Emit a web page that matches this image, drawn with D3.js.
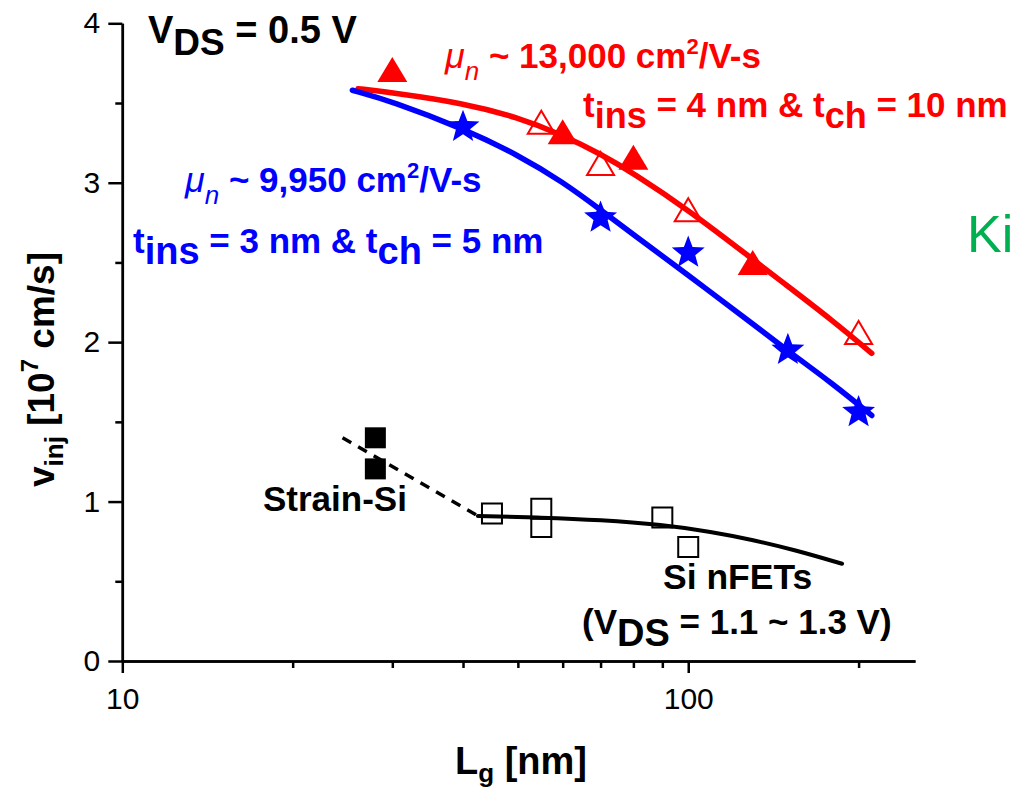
<!DOCTYPE html>
<html><head><meta charset="utf-8">
<script src="https://cdn.jsdelivr.net/npm/d3@7"></script>
<style>
body{margin:0;background:#fff}
svg{display:block}
text{font-family:"Liberation Sans",Arial,Helvetica,sans-serif}
</style>
</head><body>
<svg id="chart" width="1012" height="789"></svg>
<script>
// ---------- data ----------
const xMajorTicks = [10, 100];
const xMinorTicks = [20, 30, 40, 50, 60, 70, 80, 90, 200];
const yMajorTicks = [0, 1, 2, 3, 4];
const yMinorTicks = [0.5, 1.5, 2.5, 3.5];

// red: mu ~ 13,000, tins = 4 nm & tch = 10 nm
const redFilledL = [30, 60, 80, 130];
const redFilledV = [3.71, 3.32, 3.16, 2.50];
const redOpenL = [55, 70, 100, 200];
const redOpenV = [3.38, 3.12, 2.83, 2.06];
const redFitL = [26.1, 30, 40, 50, 60, 70, 80, 100, 130, 150, 180, 211];
const redFitV = [3.59, 3.565, 3.50, 3.41, 3.30, 3.18, 3.06, 2.83, 2.52, 2.35, 2.135, 1.93];

// blue: mu ~ 9,950, tins = 3 nm & tch = 5 nm
const blueStarL = [40, 70, 100, 150, 200];
const blueStarV = [3.35, 2.78, 2.56, 1.95, 1.56];
const blueFitL = [25.5, 30, 40, 50, 60, 70, 80, 100, 130, 150, 180, 211];
const blueFitV = [3.58, 3.51, 3.34, 3.175, 3.005, 2.83, 2.675, 2.42, 2.115, 1.945, 1.74, 1.54];

// Si nFETs
const strainL = [28, 28];
const strainV = [1.40, 1.205];
const siL = [45, 55, 55, 90, 100];
const siV = [0.925, 0.955, 0.84, 0.90, 0.715];
const siDashL = [24.5, 42.5];
const siDashV = [1.40, 0.91];
const siFitL = [42.5, 55, 70, 90, 110, 130, 155, 187];
const siFitV = [0.91, 0.90, 0.885, 0.855, 0.81, 0.76, 0.695, 0.61];

const RED = "#ff0000", BLUE = "#0000ff", GREEN = "#00b050";

// ---------- scales ----------
const svg = d3.select("#chart");
svg.append("rect").attr("width", 1012).attr("height", 789).attr("fill", "#fff");

const x = d3.scaleLog().domain([10, 251.6]).range([122.3, 915]);
const y = d3.scaleLinear().domain([0, 4]).range([661, 23.3]);

// ---------- axes ----------
const axisW = 2.5;
function styleAxis(g) {
  g.select(".domain").attr("stroke", "#000").attr("stroke-width", axisW);
  g.selectAll(".tick line").attr("stroke", "#000").attr("stroke-width", axisW);
  g.selectAll(".tick text").attr("fill", "#000").attr("font-size", 30)
    .attr("font-family", '"Liberation Sans",Arial,sans-serif');
}
svg.append("g").attr("transform", `translate(0,${y(0)})`)
  .call(d3.axisBottom(x).tickValues(xMinorTicks).tickSize(7).tickSizeOuter(0).tickFormat(""))
  .call(styleAxis);
svg.append("g").attr("transform", `translate(0,${y(0)})`)
  .call(d3.axisBottom(x).tickValues(xMajorTicks).tickSize(12).tickPadding(15).tickSizeOuter(0).tickFormat(d3.format("d")))
  .call(styleAxis);
svg.append("g").attr("transform", `translate(${x(10)},0)`)
  .call(d3.axisLeft(y).tickValues(yMinorTicks).tickSize(7).tickSizeOuter(0).tickFormat(""))
  .call(styleAxis);
svg.append("g").attr("transform", `translate(${x(10)},0)`)
  .call(d3.axisLeft(y).tickValues(yMajorTicks).tickSize(14).tickPadding(8).tickSizeOuter(0).tickFormat(d3.format("d")))
  .call(styleAxis);

// ---------- rich text helper ----------
function rich(parent, px, py, parts, opts = {}) {
  const t = parent.append("text").attr("x", px).attr("y", py)
    .attr("fill", opts.fill || "#000")
    .attr("font-weight", opts.weight || "bold")
    .attr("font-size", opts.size || 35);
  if (opts.transform) t.attr("transform", opts.transform);
  let cur = 0;
  parts.forEach(p => {
    const s = t.append("tspan").text(p.t);
    const shift = p.shift || 0;
    s.attr("dy", shift - cur);
    cur = shift;
    if (p.size) s.attr("font-size", p.size);
    if (p.style) s.attr("font-style", p.style);
    if (p.weight) s.attr("font-weight", p.weight);
  });
  return t;
}

// ---------- lines ----------
const line = d3.line().x(d => x(d[0])).y(d => y(d[1])).curve(d3.curveBasis);
const zip = (a, b) => a.map((v, i) => [v, b[i]]);

svg.append("path").datum(zip(siDashL, siDashV)).attr("d", line)
  .attr("fill", "none").attr("stroke", "#000").attr("stroke-width", 3.5)
  .attr("stroke-dasharray", "10,8");
svg.append("path").datum(zip(siFitL, siFitV)).attr("d", line)
  .attr("fill", "none").attr("stroke", "#000").attr("stroke-width", 4).attr("stroke-linecap", "round");

// ---------- markers ----------
const triPath = (w, h) => `M0,${-h/2}L${w/2},${h/2}L${-w/2},${h/2}Z`;
function starPath(R, r) {
  let p = "";
  for (let i = 0; i < 10; i++) {
    const rad = i % 2 === 0 ? R : r;
    const a = -Math.PI / 2 + i * Math.PI / 5;
    p += (i ? "L" : "M") + (rad * Math.cos(a)).toFixed(2) + "," + (rad * Math.sin(a)).toFixed(2);
  }
  return p + "Z";
}
const sqPath = s => `M${-s/2},${-s/2}h${s}v${s}h${-s}Z`;

svg.append("g").selectAll("path").data(zip(strainL, strainV)).join("path")
  .attr("d", sqPath(21)).attr("transform", d => `translate(${x(d[0])},${y(d[1])})`)
  .attr("fill", "#000");
svg.append("g").selectAll("path").data(zip(siL, siV)).join("path")
  .attr("d", sqPath(20)).attr("transform", d => `translate(${x(d[0])},${y(d[1])})`)
  .attr("fill", "none").attr("stroke", "#000").attr("stroke-width", 2);

svg.append("path").datum(zip(redFitL, redFitV)).attr("d", line)
  .attr("fill", "none").attr("stroke", RED).attr("stroke-width", 5.5).attr("stroke-linecap", "round");
svg.append("path").datum(zip(blueFitL, blueFitV)).attr("d", line)
  .attr("fill", "none").attr("stroke", BLUE).attr("stroke-width", 5.5).attr("stroke-linecap", "round");

svg.append("g").selectAll("path").data(zip(redOpenL, redOpenV)).join("path")
  .attr("d", triPath(27, 23)).attr("transform", d => `translate(${x(d[0])},${y(d[1])})`)
  .attr("fill", "none").attr("stroke", RED).attr("stroke-width", 2);
svg.append("g").selectAll("path").data(zip(redFilledL, redFilledV)).join("path")
  .attr("d", triPath(30, 25)).attr("transform", d => `translate(${x(d[0])},${y(d[1])})`)
  .attr("fill", RED);
svg.append("g").selectAll("path").data(zip(blueStarL, blueStarV)).join("path")
  .attr("d", starPath(17.3, 7.4)).attr("transform", d => `translate(${x(d[0])},${y(d[1])})`)
  .attr("fill", BLUE);

// ---------- annotations ----------
rich(svg, 148, 43, [
  {t: "V", size: 38}, {t: "DS", size: 37, shift: 12}, {t: " = 0.5 V", size: 38}
]);

rich(svg, 445, 68, [
  {t: "μ", style: "italic", weight: "normal", size: 36},
  {t: "n", style: "italic", weight: "normal", size: 26, shift: 12},
  {t: " ~ 13,000 cm"},
  {t: "2", size: 22, shift: -14},
  {t: "/V-s"}
], {fill: RED});
rich(svg, 583, 117, [
  {t: "t"}, {t: "ins", size: 36, shift: 11}, {t: " = 4 nm & t"}, {t: "ch", size: 36, shift: 11}, {t: " = 10 nm"}
], {fill: RED});

rich(svg, 185, 192, [
  {t: "μ", style: "italic", weight: "normal", size: 36},
  {t: "n", style: "italic", weight: "normal", size: 26, shift: 12},
  {t: " ~ 9,950 cm"},
  {t: "2", size: 22, shift: -14},
  {t: "/V-s"}
], {fill: BLUE});
rich(svg, 133, 253, [
  {t: "t"}, {t: "ins", size: 38, shift: 11}, {t: " = 3 nm & t"}, {t: "ch", size: 38, shift: 11}, {t: " = 5 nm"}
], {fill: BLUE});

svg.append("text").attr("x", 967).attr("y", 252).attr("fill", GREEN)
  .attr("font-size", 52).text("Ki");

rich(svg, 263, 511, [{t: "Strain-Si"}]);
rich(svg, 663, 589, [{t: "Si nFETs", size: 35.5}]);
rich(svg, 582, 634, [
  {t: "(V"}, {t: "DS", size: 38, shift: 12}, {t: " = 1.1 ~ 1.3 V)"}
]);

// axis titles
rich(svg, 455, 774, [
  {t: "L", size: 38}, {t: "g", size: 26, shift: 8}, {t: " [nm]", size: 38}
]);
rich(svg, 0, 0, [
  {t: "v", size: 37}, {t: "inj", size: 26, shift: 9}, {t: " [10", size: 37},
  {t: "7", size: 24, shift: -16}, {t: " cm/s]", size: 37}
], {transform: "translate(54,487) rotate(-90)"});
</script>
</body></html>
